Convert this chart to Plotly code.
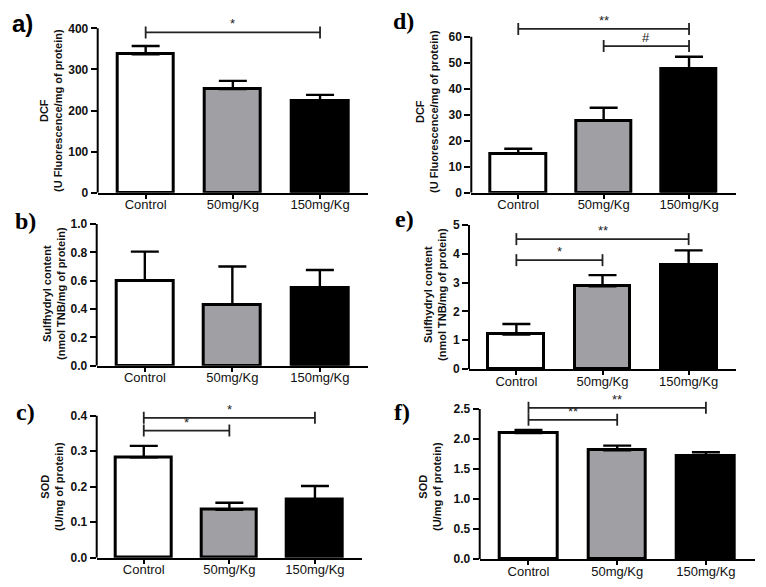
import plotly.graph_objects as go

W, H = 766, 587

categories = ["Control", "50mg/Kg", "150mg/Kg"]
bar_colors = ["#ffffff", "#a0a0a4", "#000000"]

# panel data: means and SEM (upper error)
a_mean = [337, 252, 224]
a_err = [20, 20, 14]
b_mean = [0.60, 0.43, 0.55]
b_err = [0.205, 0.27, 0.125]
c_mean = [0.283, 0.135, 0.165]
c_err = [0.032, 0.02, 0.037]
d_mean = [15.0, 27.7, 47.6]
d_err = [1.9, 5.0, 4.7]
e_mean = [1.2, 2.87, 3.62]
e_err = [0.36, 0.39, 0.50]
f_mean = [2.10, 1.81, 1.72]
f_err = [0.05, 0.08, 0.06]

# significance brackets: (from, to, y level, label)
a_sig = [(0, 2, 390, "*")]
b_sig = []
c_sig = [(0, 2, 0.394, "*"), (0, 1, 0.358, "*")]
d_sig = [(0, 2, 63, "**"), (1, 2, 56.4, "#")]
e_sig = [(0, 2, 4.51, "**"), (0, 1, 3.78, "*")]
f_sig = [(0, 2, 2.52, "**"), (0, 1, 2.32, "**")]

# tick values
a_ticks = [0, 100, 200, 300, 400]
b_ticks = [0.0, 0.2, 0.4, 0.6, 0.8, 1.0]
c_ticks = [0.0, 0.1, 0.2, 0.3, 0.4]
d_ticks = [0, 10, 20, 30, 40, 50, 60]
e_ticks = [0, 1, 2, 3, 4, 5]
f_ticks = [0.0, 0.5, 1.0, 1.5, 2.0, 2.5]

a_title = ["DCF", "(U Fluorescence/mg of protein)"]
b_title = ["Sulfhydryl content", "(nmol TNB/mg of protein)"]
c_title = ["SOD", "(U/mg of protein)"]

# layout specs (pixels): x axis start/end, zero px, top-tick px, range top, title center, label pos
panels = [
    dict(lab="a)", mean=a_mean, err=a_err, sig=a_sig, ticks=a_ticks, fmt="{:.0f}", title=a_title,
         x0=97.7, x1=368, zero=192.7, ttop=28.3, rtop=420, tx=51, ty=111, lx=22, ly=23, labfont="Liberation Sans"),
    dict(lab="b)", mean=b_mean, err=b_err, sig=b_sig, ticks=b_ticks, fmt="{:.1f}", title=b_title,
         x0=96.7, x1=368, zero=365.7, ttop=224, rtop=1.0, tx=54, ty=294, lx=25, ly=221, labfont="Liberation Serif"),
    dict(lab="c)", mean=c_mean, err=c_err, sig=c_sig, ticks=c_ticks, fmt="{:.1f}", title=c_title,
         x0=96.7, x1=362, zero=557.7, ttop=415.7, rtop=0.415, tx=52, ty=487, lx=25, ly=412, labfont="Liberation Serif"),
    dict(lab="d)", mean=d_mean, err=d_err, sig=d_sig, ticks=d_ticks, fmt="{:.0f}", title=a_title,
         x0=471.3, x1=736, zero=192.7, ttop=36.7, rtop=66, tx=427, ty=111, lx=403, ly=21, labfont="Liberation Serif"),
    dict(lab="e)", mean=e_mean, err=e_err, sig=e_sig, ticks=e_ticks, fmt="{:.0f}", title=b_title,
         x0=469, x1=736, zero=369, ttop=225, rtop=5.0, tx=435, ty=295, lx=404, ly=219, labfont="Liberation Serif"),
    dict(lab="f)", mean=f_mean, err=f_err, sig=f_sig, ticks=f_ticks, fmt="{:.1f}", title=c_title,
         x0=479.7, x1=754.7, zero=559, ttop=409, rtop=2.65, tx=430, ty=487, lx=402, ly=412, labfont="Liberation Serif"),
]

fig = go.Figure()
shapes = []
annotations = []
XR = [-0.55, 2.55]

for i, p in enumerate(panels):
    n = i + 1
    xa = "x" if n == 1 else f"x{n}"
    ya = "y" if n == 1 else f"y{n}"
    xkey = "xaxis" if n == 1 else f"xaxis{n}"
    ykey = "yaxis" if n == 1 else f"yaxis{n}"
    ppu = (p["zero"] - p["ttop"]) / p["ticks"][-1]
    top_px = p["zero"] - p["rtop"] * ppu
    xs = list(range(len(categories)))
    fig.add_trace(go.Bar(
        x=xs, y=p["mean"], width=0.65,
        marker=dict(color=bar_colors, line=dict(color="black", width=3)),
        error_y=dict(type="data", array=p["err"], arrayminus=[0] * 3, symmetric=False,
                     color="black", thickness=2.4, width=14),
        xaxis=xa, yaxis=ya, showlegend=False, hoverinfo="skip",
    ))
    fig.layout[xkey] = dict(
        domain=[p["x0"] / W, p["x1"] / W], anchor=ya, range=XR, automargin=False,
        tickvals=xs, ticktext=categories, showline=True, linecolor="black", linewidth=2,
        ticks="outside", ticklen=4, tickwidth=2, tickcolor="black", ticklabelstandoff=-5,
        showgrid=False, zeroline=False,
        tickfont=dict(family="Liberation Sans, Arial", size=13, color="#111"),
    )
    fig.layout[ykey] = dict(
        domain=[1 - p["zero"] / H, 1 - top_px / H], anchor=xa, range=[0, p["rtop"]], automargin=False,
        tickvals=p["ticks"], ticktext=[p["fmt"].format(t) for t in p["ticks"]],
        showline=False, ticks="outside", ticklen=6, tickwidth=2, tickcolor="black",
        showgrid=False, zeroline=False,
        tickfont=dict(family="Liberation Sans, Arial", size=12, color="#111", weight="bold"),
    )
    # y axis line up to the top tick
    shapes.append(dict(type="line", xref=f"{xa} domain", yref=ya, x0=0, x1=0,
                       y0=0, y1=p["ticks"][-1], line=dict(color="black", width=2)))
    # significance brackets
    for (s, e, yv, txt) in p["sig"]:
        shapes.append(dict(type="line", xref=xa, yref=ya, x0=s, x1=e, y0=yv, y1=yv,
                           line=dict(color="#222", width=1.8)))
        for xe in (s, e):
            shapes.append(dict(type="line", xref=xa, yref=ya, xsizemode="scaled",
                               ysizemode="pixel", yanchor=yv, x0=xe, x1=xe, y0=-6, y1=6,
                               line=dict(color="#222", width=1.8)))
        annotations.append(dict(x=(s + e) / 2, y=yv, xref=xa, yref=ya, text=txt,
                                showarrow=False, yanchor="bottom", yshift=-1,
                                font=dict(family="Liberation Sans, Arial", size=13, color="#222")))
    # y title
    annotations.append(dict(x=p["tx"] / W, y=1 - p["ty"] / H, xref="paper", yref="paper",
                            text=p["title"][0] + "<br>" + p["title"][1], textangle=-90,
                            showarrow=False, xanchor="center", yanchor="middle",
                            font=dict(family="Liberation Sans, Arial", size=11, color="#111", weight="bold")))
    # panel label
    annotations.append(dict(x=p["lx"] / W, y=1 - p["ly"] / H, xref="paper", yref="paper",
                            text="<b>" + p["lab"] + "</b>", showarrow=False,
                            xanchor="center", yanchor="middle",
                            font=dict(family=p["labfont"], size=24, color="black")))

fig.update_layout(
    width=W, height=H, margin=dict(l=0, r=0, t=0, b=0, autoexpand=False),
    paper_bgcolor="white", plot_bgcolor="white",
    shapes=shapes, annotations=annotations, bargap=0,
)

fig.write_html("out.html")
